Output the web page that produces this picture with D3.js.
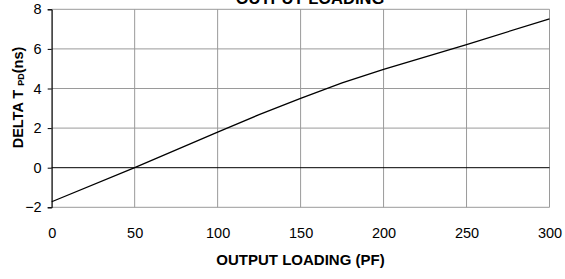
<!DOCTYPE html>
<html>
<head>
<meta charset="utf-8">
<script src="https://cdn.jsdelivr.net/npm/d3@7"></script>
<style>
  body { margin: 0; background: #fff; }
  svg { display: block; font-family: "Liberation Sans", Arial, sans-serif; }
</style>
</head>
<body>
<div id="chart"></div>
<script>
// output loading (pF) vs delta tPD (ns)
const loading = [0, 50, 100, 125, 150, 175, 200, 250, 300];
const deltaT = [-1.72, 0, 1.8, 2.68, 3.5, 4.28, 4.97, 6.22, 7.52];
const xTicks = [0, 50, 100, 150, 200, 250, 300];
const yTicks = [-2, 0, 2, 4, 6, 8];

const width = 565, height = 279;
const margin = { left: 51.7, right: 15.5, top: 9.3, bottom: 71.7 };

const svg = d3.select("#chart").append("svg")
    .attr("width", width)
    .attr("height", height);

const x = d3.scaleLinear().domain([0, 300]).range([margin.left, width - margin.right]);
const y = d3.scaleLinear().domain([-2, 8]).range([height - margin.bottom, margin.top]);

// grid
svg.append("g")
    .selectAll("line")
    .data(xTicks)
    .enter().append("line")
    .attr("x1", d => x(d)).attr("x2", d => x(d))
    .attr("y1", y(8)).attr("y2", y(-2))
    .attr("stroke", "#9a9a9a").attr("stroke-width", 1);

svg.append("g")
    .selectAll("line")
    .data(yTicks.filter(d => d !== 0))
    .enter().append("line")
    .attr("x1", x(0)).attr("x2", x(300))
    .attr("y1", d => y(d)).attr("y2", d => y(d))
    .attr("stroke", "#9a9a9a").attr("stroke-width", 1);

// zero line
svg.append("line")
    .attr("x1", x(0)).attr("x2", x(300))
    .attr("y1", y(0)).attr("y2", y(0))
    .attr("stroke", "#000").attr("stroke-width", 1);

// y axis
const yAxis = d3.axisLeft(y).tickValues(yTicks).tickSize(4).tickPadding(6);
const gy = svg.append("g")
    .attr("transform", `translate(${x(0)},0)`)
    .call(yAxis);
gy.select(".domain").attr("stroke", "#000");
gy.selectAll("text").style("font-size", "14.5px").attr("fill", "#000");

// x labels (axis sits on zero line, labels are below the plot)
const xAxis = d3.axisBottom(x).tickValues(xTicks).tickSize(0).tickPadding(0);
const gx = svg.append("g")
    .attr("transform", `translate(0,${y(-2) + 20})`)
    .call(xAxis);
gx.select(".domain").remove();
gx.selectAll("text").style("font-size", "14.5px").attr("fill", "#000").attr("dy", "0.71em");

// line
const line = d3.line()
    .x((d, i) => x(loading[i]))
    .y(d => y(d));
svg.append("path")
    .datum(deltaT)
    .attr("d", line)
    .attr("fill", "none")
    .attr("stroke", "#000")
    .attr("stroke-width", 1.3);

// titles
svg.append("text")
    .attr("x", 310).attr("y", 3.5)
    .attr("text-anchor", "middle")
    .style("font-size", "16.5px").style("font-weight", "bold")
    .text("OUTPUT LOADING");

svg.append("text")
    .attr("x", 300.5).attr("y", 265)
    .attr("text-anchor", "middle")
    .style("font-size", "15px").style("font-weight", "bold")
    .text("OUTPUT LOADING (PF)");

const yt = svg.append("text")
    .attr("transform", "translate(23,97.5) rotate(-90)")
    .attr("text-anchor", "middle")
    .style("font-size", "14.5px").style("font-weight", "bold");
yt.append("tspan").text("DELTA T ");
yt.append("tspan").style("font-size", "9px").attr("dy", 1).text("PD");
yt.append("tspan").attr("dy", -1).text("(ns)");
</script>
</body>
</html>
